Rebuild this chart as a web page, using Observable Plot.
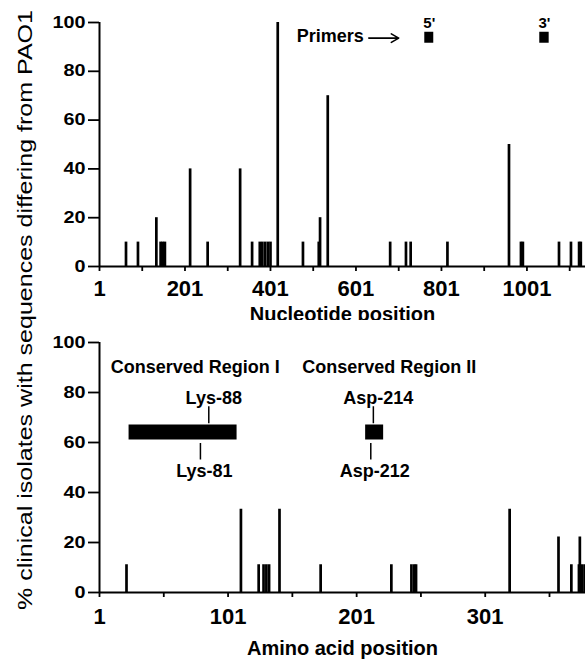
<!DOCTYPE html>
<html><head><meta charset="utf-8">
<script src="https://cdn.jsdelivr.net/npm/d3@7"></script>
<script src="https://cdn.jsdelivr.net/npm/@observablehq/plot@0.6"></script>
<style>
body{margin:0;background:#fff;}
#fig{position:relative;width:585px;height:660px;overflow:hidden;background:#fff;}
#fig svg{position:absolute;left:0;overflow:visible;}
</style></head><body><div id="fig"></div>
<script>
// ---- data ----
const nucPositions = [63, 91, 134, 144, 149, 154, 213, 254, 330, 358, 376, 382, 388.5, 395, 401, 418, 477, 514, 517, 535, 681, 718, 729, 815, 959, 987, 991.5, 1076, 1104, 1123, 1127];
const nucPercent   = [10, 10, 20, 10, 10, 10, 40, 10, 40, 10, 10, 10, 10, 10, 10, 100, 10, 10, 20, 70, 10, 10, 10, 10, 50, 10, 10, 10, 10, 10, 10];
const aaPositions  = [22, 111, 124.8, 128.6, 130.8, 132.9, 141, 173, 228, 243.6, 245.7, 247.2, 320, 358, 368, 373.9, 376, 378.2, 374.6];
const aaPercent    = [11.1, 33.3, 11.1, 11.1, 11.1, 11.1, 33.3, 11.1, 11.1, 11.1, 11.1, 11.1, 33.3, 22.2, 11.1, 11.1, 11.1, 11.1, 22.2];
const yTicks = [0, 20, 40, 60, 80, 100];
const nucTicks = [1, 101, 201, 301, 401, 501, 601, 701, 801, 901, 1001, 1101];
const nucTickLabels = ["1", "201", "401", "601", "801", "1001"];
const aaTicks = [1, 51, 101, 151, 201, 251, 301, 351];
const aaTickLabels = ["1", "101", "201", "301"];
const primerNames  = ["5'", "3'"];
const primerStarts = [762, 1031];
const primerEnds   = [783, 1053];
const regionNames  = ["Conserved Region I", "Conserved Region II"];
const regionStarts = [24, 208];
const regionEnds   = [108, 222];
const residueNames = ["Lys-88", "Lys-81", "Asp-214", "Asp-212"];
const residuePos   = [86, 79.5, 214, 212];
const residueSide  = ["above", "below", "above", "below"];
const yTitle = "% clinical isolates with sequences differing from PAO1";
const xTitleTop = "Nucleotide position";
const xTitleBottom = "Amino acid position";
const primersText = "Primers";

(function () {
// ---- layout (positions / styles) ----
const FONT = "'Liberation Sans', Arial, Helvetica, sans-serif";
const regionLabelX = [75.5, 226.3];
const nucBars = nucPositions.map((p, i) => ({pos: p, pct: nucPercent[i]}));
const aaBars = aaPositions.map((p, i) => ({pos: p, pct: aaPercent[i]}));
const primers = primerNames.map((n, i) => ({name: n, start: primerStarts[i], end: primerEnds[i]}));
const regions = regionNames.map((n, i) => ({name: n, start: regionStarts[i], end: regionEnds[i], lx: regionLabelX[i]}));
const residues = residueNames.map((n, i) => ({name: n, pos: residuePos[i], side: residueSide[i]}));

function restyle(svg) {
  d3.select(svg).selectAll('g[aria-label="y-axis tick label"] text').each(function() {
    const t = d3.select(this).text();
    d3.select(this).style("font-size", "16px").style("font-weight", "bold")
      .attr("textLength", t.length * 11).attr("lengthAdjust", "spacingAndGlyphs");
  });
  d3.select(svg).selectAll('g[aria-label="x-axis tick label"] text')
    .style("font-size", "22px").style("font-weight", "bold");
}

const common = {
  width: 585, marginLeft: 99, marginRight: 0,
  style: {fontFamily: FONT, color: "black", background: "white", overflow: "visible"}
};

const axisStyle = {strokeWidth: 1.8, label: null};

const topPlot = Plot.plot({
  ...common,
  height: 322, marginTop: 22, marginBottom: 56,
  x: {domain: [1, 1138]},
  y: {domain: [0, 100]},
  marks: [
    Plot.ruleX(nucBars, {x: "pos", y1: () => 0, y2: "pct", stroke: "black", strokeWidth: 2.7}),
    Plot.rect(primers, {x1: "start", x2: "end", y1: () => 91.5, y2: () => 96, fill: "black"}),
    Plot.text(primers, {x: d => (d.start + d.end) / 2, y: () => 97.6, text: "name", lineAnchor: "bottom", fontSize: 15, fontWeight: "bold", fill: "black"}),
    Plot.text([primersText], {x: () => 541, y: () => 94.3, text: d => d, lineAnchor: "middle", fontSize: 18, fontWeight: "bold", fill: "black"}),
    Plot.arrow([0], {x1: () => 631, y1: () => 93.6, x2: () => 701, y2: () => 93.6, stroke: "black", strokeWidth: 1.6, headLength: 8}),
    Plot.ruleY([0], {stroke: "black", strokeWidth: 2}),
    Plot.ruleX([1], {stroke: "black", strokeWidth: 2}),
    Plot.axisY({ticks: yTicks, tickSize: 11, tickPadding: 3, ...axisStyle}),
    Plot.axisX({ticks: nucTicks, tickFormat: d => nucTickLabels.includes(String(d)) ? String(d) : "", tickSize: 5, tickPadding: 9, ...axisStyle}),
    Plot.text([xTitleTop], {frameAnchor: "bottom", dy: 48, text: d => d, lineAnchor: "middle", fontSize: 20, fontWeight: "bold", fill: "black"})
  ]
});
topPlot.style.top = "0px";
restyle(topPlot);

const bottomPlot = Plot.plot({
  ...common,
  height: 340, marginTop: 22, marginBottom: 68,
  x: {domain: [1, 379]},
  y: {domain: [0, 100]},
  marks: [
    Plot.ruleX(aaBars, {x: "pos", y1: () => 0, y2: "pct", stroke: "black", strokeWidth: 2.7}),
    Plot.rect(regions, {x1: "start", x2: "end", y1: () => 61, y2: () => 67, fill: "black"}),
    Plot.text(regions, {x: "lx", y: () => 90.3, text: "name", lineAnchor: "middle", fontSize: 18, fontWeight: "bold", fill: "black"}),
    Plot.ruleX(residues, {x: "pos", y1: d => d.side === "above" ? 67.5 : 53, y2: d => d.side === "above" ? 74.3 : 59.6, stroke: "black", strokeWidth: 1.5}),
    Plot.text(residues.filter(d => d.side === "above"), {x: "pos", y: () => 75.5, dx: 5, text: "name", lineAnchor: "bottom", fontSize: 18, fontWeight: "bold", fill: "black"}),
    Plot.text(residues.filter(d => d.side === "below"), {x: "pos", y: () => 51.4, dx: 4, text: "name", lineAnchor: "top", fontSize: 18, fontWeight: "bold", fill: "black"}),
    Plot.ruleY([0], {stroke: "black", strokeWidth: 2}),
    Plot.ruleX([1], {stroke: "black", strokeWidth: 2}),
    Plot.axisY({ticks: yTicks, tickSize: 11, tickPadding: 3, ...axisStyle}),
    Plot.axisX({ticks: aaTicks, tickFormat: d => aaTickLabels.includes(String(d)) ? String(d) : "", tickSize: 5, tickPadding: 11, ...axisStyle}),
    Plot.text([xTitleBottom], {frameAnchor: "bottom", dy: 56, text: d => d, lineAnchor: "middle", fontSize: 20, fontWeight: "bold", fill: "black"})
  ]
});
bottomPlot.style.top = "320px";
restyle(bottomPlot);

const fig = document.getElementById("fig");
fig.appendChild(topPlot);
fig.appendChild(bottomPlot);

// rotated y-axis title spanning both panels
const tsvg = d3.create("svg").attr("width", 50).attr("height", 660).style("top", "0px");
tsvg.append("text")
  .attr("transform", "translate(24,310) rotate(-90)")
  .attr("text-anchor", "middle")
  .attr("dominant-baseline", "central")
  .attr("font-family", FONT)
  .attr("font-size", 21)
  .attr("fill", "black")
  .attr("textLength", 600)
  .attr("lengthAdjust", "spacingAndGlyphs")
  .text(yTitle);
fig.appendChild(tsvg.node());
})();
</script>
</body></html>
